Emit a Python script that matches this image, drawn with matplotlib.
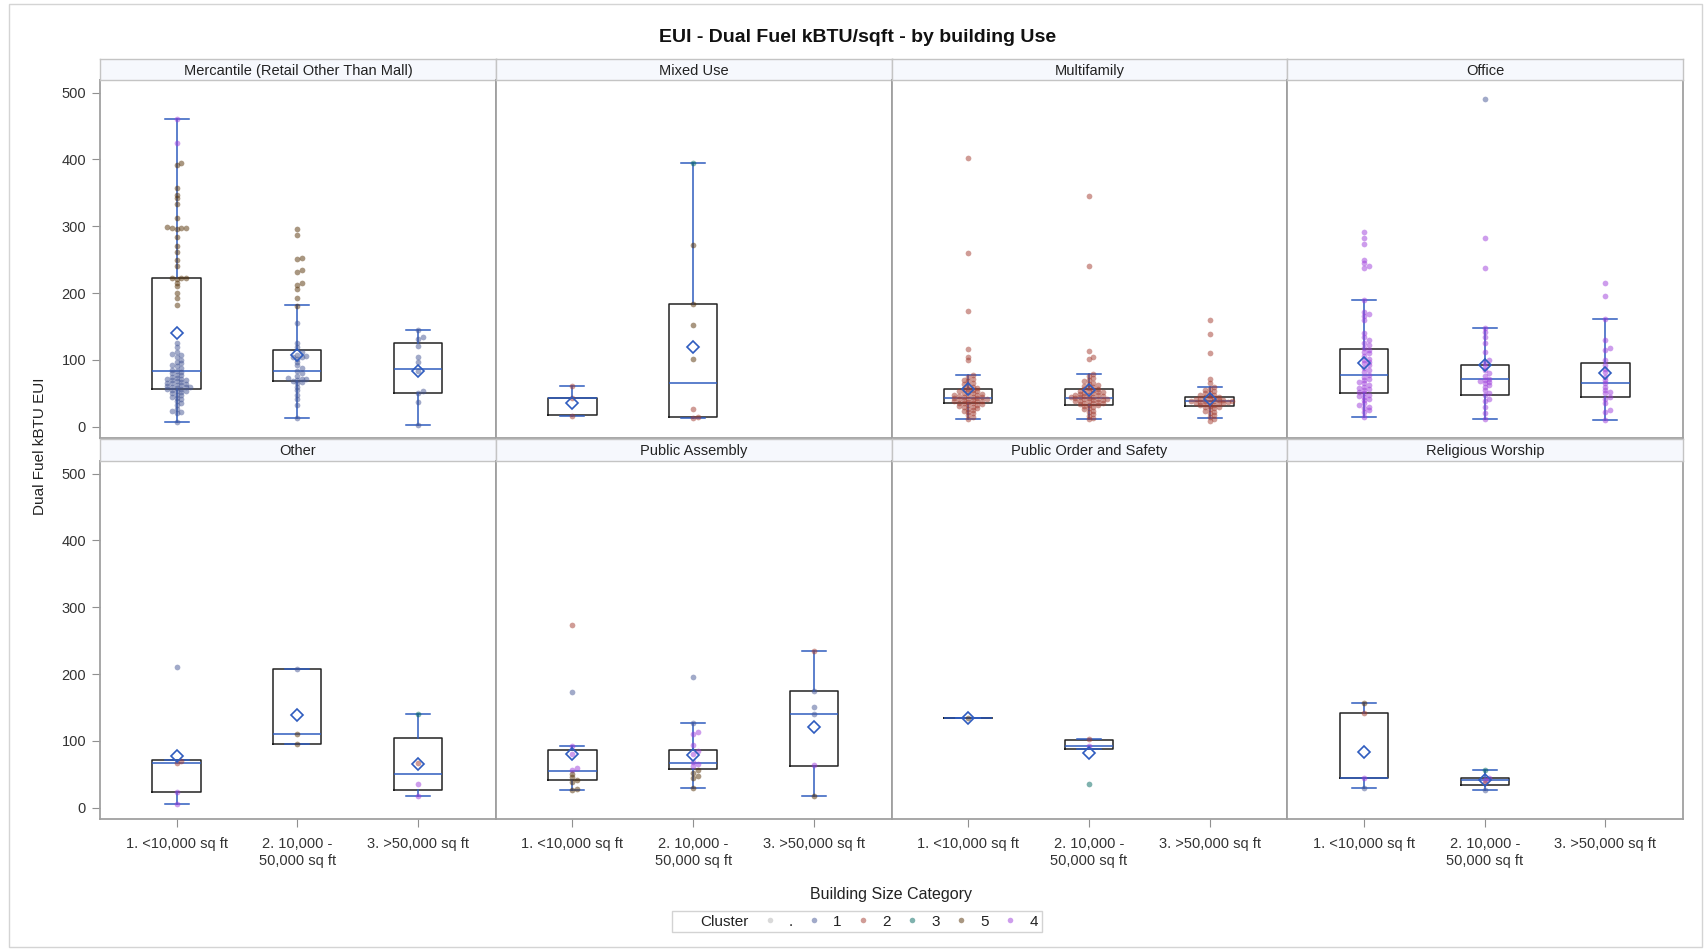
import numpy as np
import matplotlib
matplotlib.use("Agg")
from matplotlib import pyplot as plt
from matplotlib.lines import Line2D
from matplotlib.patches import Rectangle

plt.rcParams['font.family'] = ['Liberation Sans', 'DejaVu Sans']

# Categorias e paineis
categorias = ["1. <10,000 sq ft", "2. 10,000 -\n50,000 sq ft", "3. >50,000 sq ft"]
usos = ["Mercantile (Retail Other Than Mall)", "Mixed Use", "Multifamily", "Office",
        "Other", "Public Assembly", "Public Order and Safety", "Religious Worship"]
clusters = [".", "1", "2", "3", "5", "4"]
cores = {".": "#b4b4b4", "1": "#445694", "2": "#a23a2e", "3": "#01665e",
         "5": "#543005", "4": "#9d3cdb"}

# Estatisticas das caixas: (whislo, q1, mediana, q3, whishi, media)
caixas_mercantile = [(6.5, 56, 84, 222, 461, 140), (12.5, 68, 84, 115, 182, 107), (2.5, 50, 87, 126, 145, 84)]
caixas_mixed = [(16, 17, 43, 43.4, 61, 36), (12.5, 15, 66, 184, 394, 119), None]
caixas_multifamily = [(11, 35, 43, 56, 78, 56), (11, 32, 43, 56, 79, 55), (12.5, 31, 38, 45, 59, 42)]
caixas_office = [(14, 50, 78, 117, 189, 96), (11, 48, 71, 92, 148, 92), (9.5, 45, 65, 96, 161, 80)]
caixas_other = [(5.5, 23, 67, 71, 71, 77), (96, 96, 110, 207, 207, 138), (17, 26, 51, 104, 140, 65)]
caixas_assembly = [(26, 41, 55, 87, 93, 80), (30, 58, 67, 87, 127, 79), (18, 63, 140, 174, 235, 121)]
caixas_order = [(134, 134, 134, 134, 134, 134), (88, 88, 93, 101, 103, 82), None]
caixas_religious = [(29, 45, 45, 141, 157, 83), (27, 34, 42, 44, 56, 42), None]

# Pontos por categoria e cluster
pontos_mercantile = [
    {"4": [461, 425],
     "5": [394, 392, 358, 347, 342, 334, 312, 299, 298, 297, 297, 296, 284, 270, 262, 250,
           240, 223, 222, 222, 221, 215, 210, 200, 192, 182],
     "1": [125, 120, 112, 109, 107, 105, 100, 97, 95, 92, 91, 88, 85, 84, 82, 80, 78, 77, 75,
           73, 72, 71, 70, 70, 68, 67, 66, 65, 64, 63, 62, 61, 60, 60, 59, 58, 57, 56, 55, 54,
           53, 52, 50, 48, 47, 45, 43, 41, 38, 35, 32, 27, 24, 22, 20, 7]},
    {"5": [296, 287, 253, 251, 235, 232, 215, 212, 206, 192, 180],
     "1": [155, 126, 120, 112, 108, 106, 105, 104, 102, 97, 92, 88, 84, 80, 76, 73, 72, 71,
           70, 69, 67, 65, 60, 55, 48, 42, 32, 13]},
    {"1": [145, 135, 131, 121, 105, 97, 84, 54, 50, 37, 2.5]},
]
pontos_mixed = [
    {"2": [61, 43, 16]},
    {"3": [394], "5": [272, 184, 152, 102], "2": [27, 15, 13]},
    {},
]
pontos_multifamily = [
    {"2": [402, 260, 173, 116, 105, 100, 78, 75, 72, 70, 68, 66, 64, 62, 60, 58, 57, 56, 55,
           54, 53, 52, 51, 50, 49, 48, 48, 47, 46, 45, 45, 44, 43, 43, 42, 42, 41, 40, 40, 39,
           38, 38, 37, 36, 35, 35, 34, 33, 32, 31, 30, 30, 28, 27, 25, 24, 22, 20, 17, 14, 11]},
    {"2": [346, 240, 113, 105, 102, 79, 76, 73, 70, 68, 66, 64, 62, 61, 60, 58, 57, 56, 55,
           54, 53, 52, 52, 51, 50, 49, 48, 48, 47, 46, 46, 45, 44, 44, 43, 43, 42, 42, 41, 40,
           40, 39, 38, 38, 37, 36, 35, 35, 34, 33, 32, 31, 30, 28, 26, 24, 22, 19, 16, 13, 11]},
    {"2": [159, 138, 110, 72, 65, 59, 57, 55, 53, 51, 50, 48, 47, 46, 45, 44, 43, 42, 42, 41,
           40, 40, 39, 39, 38, 38, 37, 37, 36, 36, 35, 35, 34, 33, 32, 31, 30, 29, 28, 26, 24,
           22, 20, 17, 15, 12, 8]},
]
pontos_office = [
    {"4": [292, 283, 274, 250, 245, 240, 238, 189, 172, 168, 165, 160, 140, 135, 130, 126,
           122, 118, 115, 112, 110, 106, 102, 100, 97, 95, 92, 88, 85, 82, 78, 75, 72, 70, 67,
           65, 63, 60, 58, 56, 55, 52, 50, 48, 46, 45, 42, 40, 35, 32, 30, 28, 25, 22, 14]},
    {"1": [490],
     "4": [282, 238, 148, 142, 135, 125, 112, 100, 96, 90, 85, 80, 76, 72, 70, 68, 67, 65,
           62, 60, 55, 50, 47, 42, 38, 30, 20, 11]},
    {"4": [215, 196, 161, 130, 118, 115, 100, 92, 87, 82, 75, 70, 65, 60, 55, 52, 50, 45,
           42, 35, 25, 22, 10]},
]
pontos_other = [
    {"1": [211], "2": [70, 67], "4": [23, 5.5]},
    {"1": [207], "5": [110, 96]},
    {"3": [140], "2": [67], "4": [35, 17]},
]
pontos_assembly = [
    {"2": [274], "1": [173], "4": [93, 80, 60, 57], "5": [51, 46, 42, 38, 28, 26]},
    {"1": [195, 127], "4": [113, 110, 94, 85, 81, 68, 66, 62], "5": [56, 52, 48, 44, 30]},
    {"2": [235], "1": [174, 151, 140], "4": [64], "5": [18]},
]
pontos_order = [
    {"5": [134]},
    {"2": [103], "4": [93], "3": [35]},
    {},
]
pontos_religious = [
    {"5": [157], "2": [141], "4": [45], "1": [29]},
    {"3": [56], "4": [44, 42], "2": [37], "1": [27]},
    {},
]

todas_caixas = [caixas_mercantile, caixas_mixed, caixas_multifamily, caixas_office,
                caixas_other, caixas_assembly, caixas_order, caixas_religious]
todos_pontos = [pontos_mercantile, pontos_mixed, pontos_multifamily, pontos_office,
                pontos_other, pontos_assembly, pontos_order, pontos_religious]


def jitter(valores, passo=0.038, faixa=4.5):
    # desloca horizontalmente pontos que se sobrepoem (tipo beeswarm)
    valores = np.asarray(valores, dtype=float)
    desl = np.zeros(len(valores))
    colocados = []
    for i in np.argsort(valores):
        v = valores[i]
        viz = [d for (u, d) in colocados if abs(u - v) < faixa]
        k = 0
        while True:
            cand = ((k + 1) // 2) * passo * (1 if k % 2 == 1 else -1)
            if all(abs(cand - d) > passo * 0.9 for d in viz):
                break
            k += 1
        desl[i] = cand
        colocados.append((v, cand))
    return desl


W, H = 1705, 949
fig = plt.figure(figsize=(W / 100, H / 100), dpi=100)

# borda externa
fig.patches.append(Rectangle((9 / W, 0.002), 1693 / W, 1 - 4 / H - 0.002, transform=fig.transFigure,
                             fill=False, edgecolor="#d4d4d4", linewidth=1))

x0 = 100 / W
larg = 395.8 / W
alt_plot = 358.3 / H
fundo = [1 - 438.3 / H, 1 - 819.3 / H]
topo_cab = [59.3, 439.3]
fim_cab = [80, 461]

cor_azul = "#2f5cbf"
posicoes = [0, 1, 2]

for p in range(8):
    lin, col = divmod(p, 4)
    left = x0 + col * larg
    ax = fig.add_axes([left, fundo[lin], larg, alt_plot])
    cab = fig.add_axes([left, 1 - fim_cab[lin] / H, larg, (fim_cab[lin] - topo_cab[lin]) / H])
    cab.set_facecolor("#f6f8fd")
    cab.set_xticks([])
    cab.set_yticks([])
    for s in cab.spines.values():
        s.set_color("#c4c4c4")
        s.set_linewidth(1)
    cab.text(0.5, 0.45, usos[p], ha="center", va="center", fontsize=10.5, color="#222222")

    stats = []
    pos = []
    for c, cx in enumerate(todas_caixas[p]):
        if cx is None:
            continue
        wl, q1, med, q3, wh, mu = cx
        stats.append({"whislo": wl, "q1": q1, "med": med, "q3": q3, "whishi": wh,
                      "mean": mu, "fliers": []})
        pos.append(posicoes[c])
    ax.bxp(stats, positions=pos, widths=0.4, showmeans=True, showfliers=False,
           boxprops=dict(color="#222222", linewidth=1.1),
           medianprops=dict(color=cor_azul, linewidth=1.1),
           whiskerprops=dict(color=cor_azul, linewidth=1.1),
           capprops=dict(color=cor_azul, linewidth=1.1),
           meanprops=dict(marker="D", markersize=6.5, markerfacecolor="none",
                          markeredgecolor=cor_azul, markeredgewidth=1.2, zorder=6))

    for c, grupo in enumerate(todos_pontos[p]):
        vals = []
        cls = []
        for k, v in grupo.items():
            vals += v
            cls += [k] * len(v)
        if not vals:
            continue
        dx = jitter(vals)
        for k in grupo:
            idx = [i for i in range(len(vals)) if cls[i] == k]
            ax.scatter([posicoes[c] + dx[i] for i in idx], [vals[i] for i in idx],
                       s=17, color=cores[k], alpha=0.5, linewidths=0, zorder=4)

    ax.set_xlim(-0.635, 2.645)
    ax.set_ylim(-17.4, 519)
    ax.set_facecolor("white")
    for s in ax.spines.values():
        s.set_color("#a0a0a0")
        s.set_linewidth(1.3)
    ax.set_yticks([0, 100, 200, 300, 400, 500])
    ax.set_xticks(posicoes)
    if col == 0:
        ax.tick_params(axis="y", length=6, color="#909090", labelsize=10.5,
                       labelcolor="#333333", pad=4)
    else:
        ax.tick_params(axis="y", length=0, labelleft=False)
    if lin == 1:
        ax.set_xticklabels(categorias)
        ax.tick_params(axis="x", length=6, color="#909090", labelsize=10.5,
                       labelcolor="#333333", pad=7)
    else:
        ax.tick_params(axis="x", length=0, labelbottom=False)

fig.text(858 / W, 1 - 37 / H, "EUI - Dual Fuel kBTU/sqft - by building Use", ha="center",
         va="center", fontsize=14, fontweight="bold", color="#111111")
fig.text(40 / W, 1 - 446 / H, "Dual Fuel kBTU EUI", rotation=90, ha="center", va="center",
         fontsize=11, color="#222222")
fig.text(891 / W, 1 - 895 / H, "Building Size Category", ha="center", va="center",
         fontsize=11.5, color="#222222")

alcas = [Line2D([], [], linestyle="none", marker=None)]
rotulos = ["Cluster"]
for k in clusters:
    alcas.append(Line2D([], [], linestyle="none", marker="o", markersize=4,
                        color=cores[k], alpha=0.5, markeredgewidth=0))
    rotulos.append(k)
leg = fig.legend(alcas, rotulos, ncol=7, loc="center", bbox_to_anchor=(856.5 / W, 1 - 921.5 / H),
                 fontsize=11, frameon=True, fancybox=False, edgecolor="#c8c8c8",
                 handlelength=0.7, handletextpad=0.9, columnspacing=1.05, borderpad=0.25)
leg.get_frame().set_linewidth(1)
for t in leg.get_texts():
    t.set_color("#222222")

plt.savefig("out.png", dpi=100)
